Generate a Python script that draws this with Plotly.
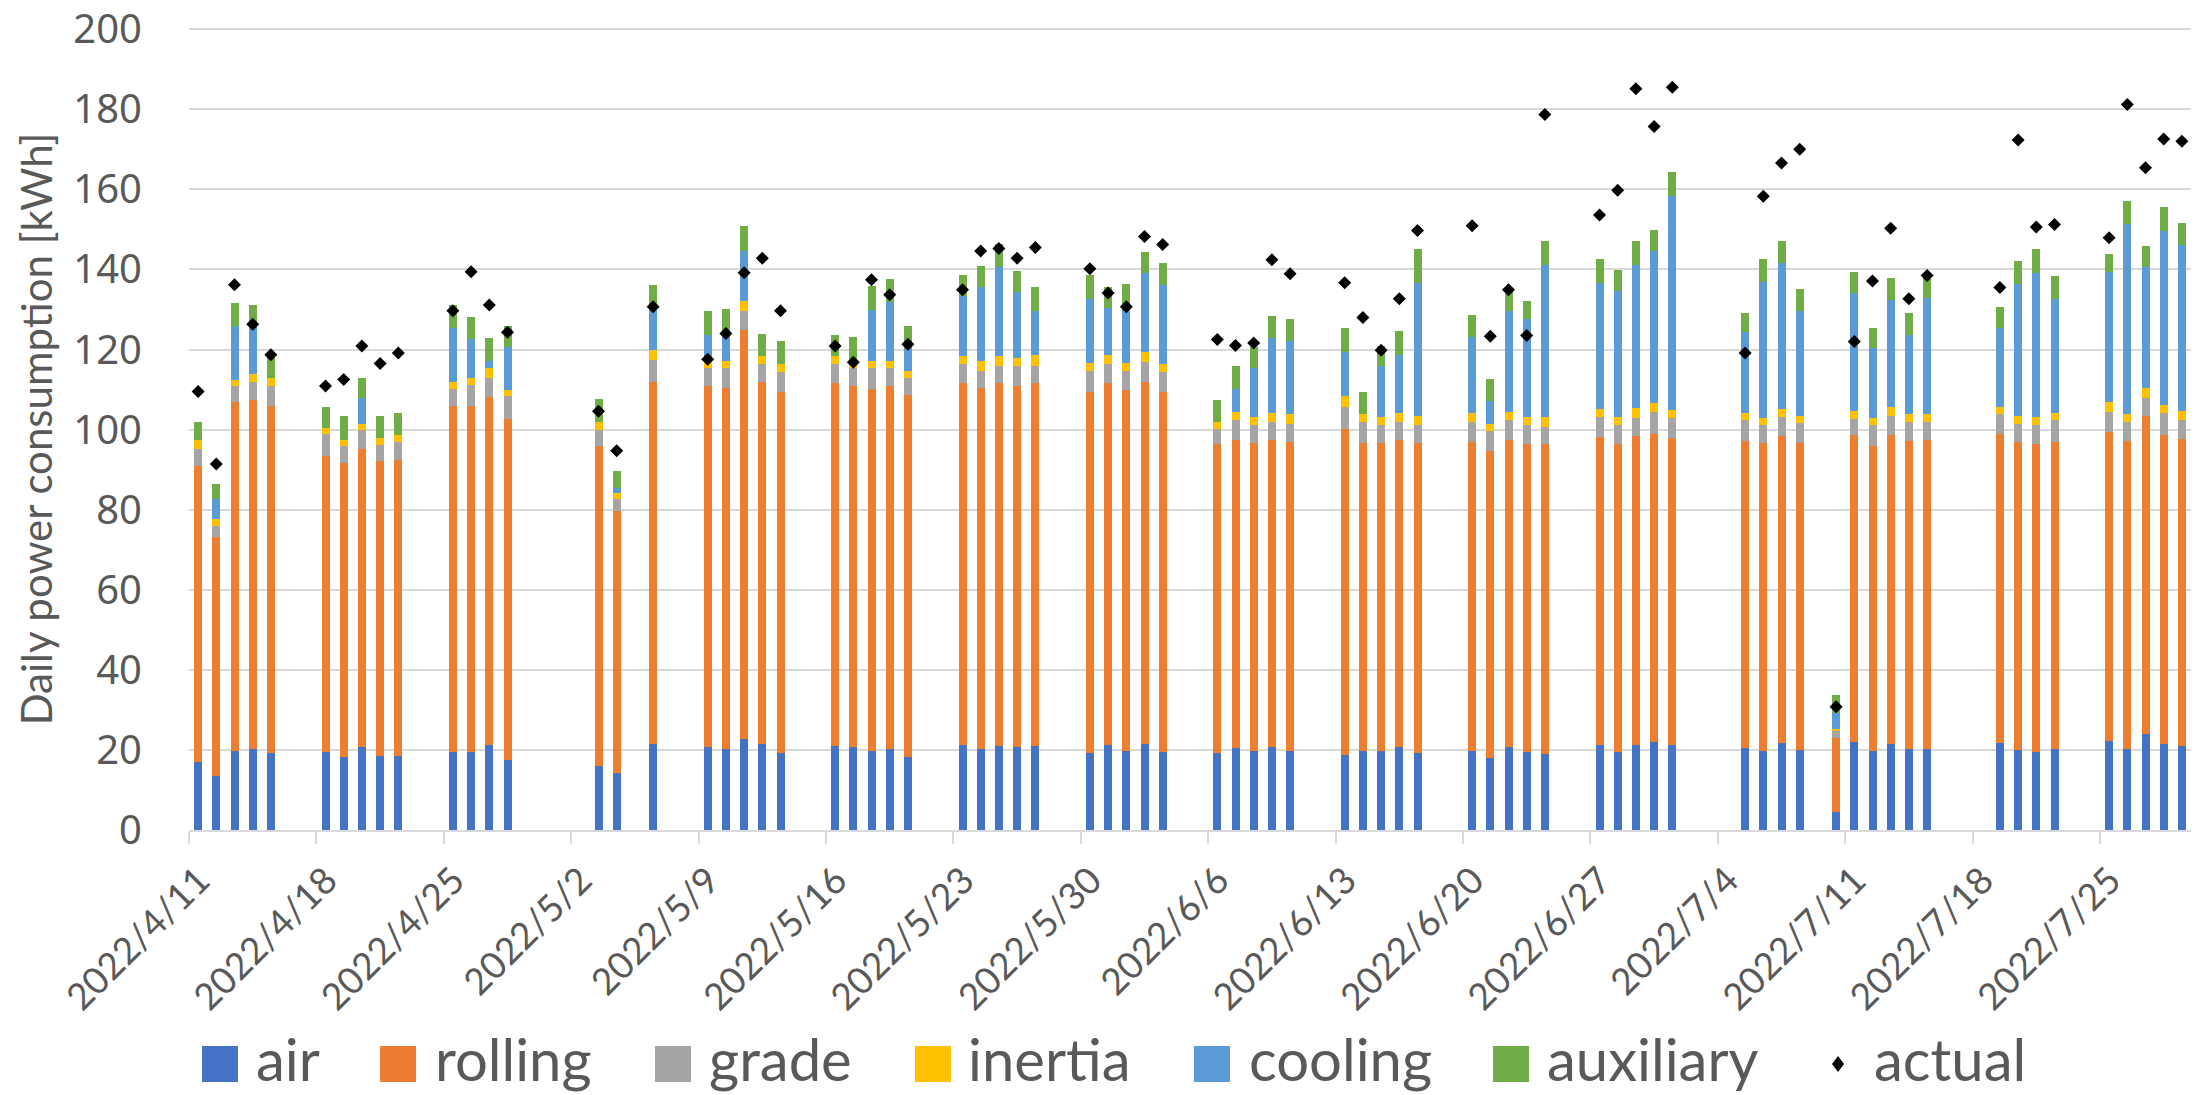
import pandas as pd
import plotly.graph_objects as go

dates = [
    "2022-04-11", "2022-04-12", "2022-04-13", "2022-04-14", "2022-04-15",
    "2022-04-18", "2022-04-19", "2022-04-20", "2022-04-21", "2022-04-22",
    "2022-04-25", "2022-04-26", "2022-04-27", "2022-04-28",
    "2022-05-03", "2022-05-04", "2022-05-06",
    "2022-05-09", "2022-05-10", "2022-05-11", "2022-05-12", "2022-05-13",
    "2022-05-16", "2022-05-17", "2022-05-18", "2022-05-19", "2022-05-20",
    "2022-05-23", "2022-05-24", "2022-05-25", "2022-05-26", "2022-05-27",
    "2022-05-30", "2022-05-31", "2022-06-01", "2022-06-02", "2022-06-03",
    "2022-06-06", "2022-06-07", "2022-06-08", "2022-06-09", "2022-06-10",
    "2022-06-13", "2022-06-14", "2022-06-15", "2022-06-16", "2022-06-17",
    "2022-06-20", "2022-06-21", "2022-06-22", "2022-06-23", "2022-06-24",
    "2022-06-27", "2022-06-28", "2022-06-29", "2022-06-30", "2022-07-01",
    "2022-07-05", "2022-07-06", "2022-07-07", "2022-07-08",
    "2022-07-10", "2022-07-11", "2022-07-12", "2022-07-13", "2022-07-14", "2022-07-15",
    "2022-07-19", "2022-07-20", "2022-07-21", "2022-07-22",
    "2022-07-25", "2022-07-26", "2022-07-27", "2022-07-28", "2022-07-29",
]

air = [
    17.0, 13.5, 19.8, 20.3, 19.2,
    19.5, 18.3, 20.7, 18.6, 18.6,
    19.5, 19.5, 21.3, 17.5,
    16.0, 14.3, 21.4,
    20.7, 20.2, 22.8, 21.4, 19.2,
    21.0, 20.7, 19.8, 20.2, 18.3,
    21.3, 20.2, 21.0, 20.7, 21.0,
    19.2, 21.3, 19.8, 21.4, 19.5,
    19.2, 20.5, 19.8, 20.7, 19.8,
    18.8, 19.8, 19.8, 20.7, 19.2,
    19.8, 18.0, 20.7, 19.5, 19.0,
    21.3, 19.5, 21.3, 22.0, 21.3,
    20.5, 19.8, 21.7, 20.1,
    4.6, 22.0, 19.8, 21.4, 20.2, 20.2,
    21.7, 20.1, 19.5, 20.2,
    22.2, 20.2, 24.0, 21.4, 21.0,
]
rolling = [
    73.9, 59.8, 87.0, 87.1, 86.8,
    73.8, 73.4, 74.4, 73.5, 73.8,
    86.5, 86.5, 86.9, 85.1,
    80.0, 65.4, 90.6,
    90.3, 90.3, 102.0, 90.5, 90.3,
    90.6, 90.3, 90.3, 90.6, 90.4,
    90.4, 90.3, 90.6, 90.1, 90.6,
    90.3, 90.3, 90.0, 90.6, 90.0,
    77.1, 77.0, 76.8, 76.7, 77.1,
    81.3, 76.8, 76.8, 76.7, 77.4,
    77.1, 76.7, 76.8, 76.8, 77.3,
    76.8, 76.8, 77.1, 77.0, 76.5,
    76.6, 76.8, 76.7, 76.5,
    18.3, 76.6, 76.2, 77.2, 76.9, 77.2,
    77.2, 76.8, 76.8, 76.7,
    77.1, 76.9, 79.5, 77.2, 76.7,
]
grade = [
    4.3, 2.7, 4.0, 4.6, 5.0,
    5.5, 4.1, 4.8, 4.1, 4.5,
    4.2, 5.2, 4.8, 5.9,
    4.0, 3.0, 5.5,
    4.4, 4.8, 4.9, 4.6, 5.0,
    4.8, 4.4, 5.2, 4.5, 4.3,
    4.8, 4.2, 4.4, 5.2, 4.4,
    5.2, 4.9, 4.9, 4.8, 4.8,
    3.8, 4.8, 4.6, 4.6, 4.5,
    5.6, 5.2, 4.5, 4.6, 4.6,
    4.9, 5.0, 4.8, 4.8, 4.4,
    5.0, 4.9, 4.5, 5.5, 5.1,
    5.2, 4.5, 4.7, 5.0,
    1.9, 4.0, 5.1, 4.7, 4.7, 4.4,
    4.9, 4.5, 4.8, 5.4,
    5.2, 4.9, 4.4, 5.5, 4.6,
]
inertia = [
    2.1, 1.6, 1.5, 1.8, 1.8,
    1.5, 1.7, 1.6, 1.8, 1.7,
    1.7, 1.6, 2.3, 1.3,
    1.8, 1.5, 2.4,
    1.7, 1.8, 2.5, 1.9, 1.9,
    1.9, 1.5, 1.9, 1.8, 1.6,
    1.8, 2.4, 2.3, 2.0, 2.6,
    1.9, 2.2, 1.9, 2.6, 2.2,
    1.9, 2.2, 1.9, 2.2, 2.4,
    2.6, 2.0, 2.0, 2.2, 2.1,
    2.3, 1.7, 2.1, 2.0, 2.4,
    2.1, 1.9, 2.4, 2.2, 2.1,
    1.9, 1.8, 2.1, 1.9,
    0.4, 2.0, 1.8, 2.3, 2.2, 2.2,
    1.9, 2.0, 2.0, 1.9,
    2.3, 1.8, 2.5, 2.0, 2.3,
]
cooling = [
    0.0, 5.1, 13.6, 12.4, 0.0,
    0.0, 0.0, 6.3, 0.0, 0.0,
    13.5, 9.8, 1.9, 10.8,
    0.0, 1.2, 11.1,
    6.6, 7.0, 12.5, 0.0, 0.0,
    0.0, 0.0, 12.7, 14.8, 5.9,
    15.1, 18.5, 22.4, 16.4, 11.1,
    16.1, 11.6, 14.4, 19.6, 19.7,
    0.0, 5.7, 12.2, 18.7, 18.4,
    11.2, 0.0, 12.7, 14.5, 33.3,
    19.1, 5.7, 25.2, 24.6, 38.0,
    31.5, 31.6, 35.8, 37.9, 53.4,
    20.1, 33.9, 36.4, 26.2,
    3.9, 29.4, 17.4, 26.7, 19.6, 28.9,
    19.8, 32.9, 35.9, 28.5,
    32.5, 47.5, 30.3, 43.4, 41.6,
]
auxiliary = [
    4.7, 3.7, 5.6, 5.0, 5.6,
    5.4, 5.8, 5.2, 5.5, 5.5,
    5.6, 5.4, 5.6, 5.3,
    5.8, 4.2, 5.2,
    5.9, 5.9, 6.2, 5.5, 5.8,
    5.3, 6.3, 6.0, 5.8, 5.4,
    5.2, 5.2, 5.7, 5.3, 5.9,
    5.8, 5.3, 5.4, 5.3, 5.4,
    5.5, 5.6, 5.4, 5.5, 5.4,
    6.0, 5.5, 5.1, 6.0, 8.4,
    5.4, 5.5, 5.5, 4.4, 6.0,
    6.0, 5.1, 6.0, 5.2, 5.9,
    4.8, 5.9, 5.5, 5.5,
    4.6, 5.4, 5.1, 5.6, 5.6, 5.3,
    5.2, 5.7, 6.0, 5.6,
    4.5, 5.7, 5.1, 6.0, 5.4,
]
actual = [
    109.5, 91.4, 136.2, 126.3, 118.7,
    110.9, 112.5, 120.9, 116.5, 119.1,
    129.7, 139.4, 131.1, 124.3,
    104.6, 94.7, 130.7,
    117.6, 124.0, 139.2, 142.8, 129.7,
    120.9, 116.8, 137.4, 133.7, 121.3,
    134.9, 144.6, 145.2, 142.8, 145.5,
    140.2, 134.1, 130.7, 148.2, 146.2,
    122.5, 121.0, 121.6, 142.4, 138.9,
    136.7, 128.0, 119.8, 132.7, 149.7,
    150.9, 123.3, 134.9, 123.5, 178.7,
    153.6, 159.8, 185.1, 175.7, 185.5,
    119.1, 158.3, 166.6, 170.0,
    30.8, 122.0, 137.1, 150.3, 132.7, 138.5,
    135.5, 172.3, 150.6, 151.2,
    147.9, 181.2, 165.4, 172.6, 172.0,
]

tick_dates = [
    "2022-04-11", "2022-04-18", "2022-04-25", "2022-05-02", "2022-05-09",
    "2022-05-16", "2022-05-23", "2022-05-30", "2022-06-06", "2022-06-13",
    "2022-06-20", "2022-06-27", "2022-07-04", "2022-07-11", "2022-07-18",
    "2022-07-25",
]
tick_labels = [
    "2022/4/11", "2022/4/18", "2022/4/25", "2022/5/2", "2022/5/9",
    "2022/5/16", "2022/5/23", "2022/5/30", "2022/6/6", "2022/6/13",
    "2022/6/20", "2022/6/27", "2022/7/4", "2022/7/11", "2022/7/18",
    "2022/7/25",
]
y_ticks = [0, 20, 40, 60, 80, 100, 120, 140, 160, 180, 200]

series_names = ["air", "rolling", "grade", "inertia", "cooling", "auxiliary"]
series_values = [air, rolling, grade, inertia, cooling, auxiliary]
series_colors = ["#4472C4", "#ED7D31", "#A5A5A5", "#FFC000", "#5B9BD5", "#70AD47"]

x = pd.to_datetime(dates) + pd.Timedelta(hours=12)
DAY_MS = 86400000

fig = go.Figure()
for name, vals, col in zip(series_names, series_values, series_colors):
    fig.add_trace(go.Bar(
        x=x, y=vals, name=name, width=0.44 * DAY_MS,
        marker=dict(color=col, line=dict(width=0)),
        showlegend=False,
    ))
fig.add_trace(go.Scatter(
    x=x, y=actual, name="actual", mode="markers",
    marker=dict(symbol="diamond", size=10, color="black"),
    showlegend=False,
))

W, H = 2195, 1095
L, R, T, B = 189, 4, 28, 265
PW, PH = W - L - R, H - T - B


def px_x(p):
    return (p - L) / PW


def px_y(p):
    return (H - B - p) / PH


GRAY = "#595959"
shapes = []
annotations = []
legend_items = [
    ("air", series_colors[0], 202, 254),
    ("rolling", series_colors[1], 380, 433),
    ("grade", series_colors[2], 655, 707),
    ("inertia", series_colors[3], 915, 966),
    ("cooling", series_colors[4], 1194, 1247),
    ("auxiliary", series_colors[5], 1493, 1545),
]
sw_top, sw_bot = 1046, 1082
for name, col, sx, tx in legend_items:
    shapes.append(dict(type="rect", xref="paper", yref="paper",
                       x0=px_x(sx), x1=px_x(sx + 36), y0=px_y(sw_bot), y1=px_y(sw_top),
                       fillcolor=col, line=dict(width=0)))
    annotations.append(dict(text=name, xref="paper", yref="paper",
                            x=px_x(tx), y=px_y(1058), xanchor="left", yanchor="middle",
                            showarrow=False, font=dict(family="Lato", size=58, color=GRAY)))
# actual legend diamond
cx, cy = 1838, 1064
dx, dy = 6, 8
path = "M {},{} L {},{} L {},{} L {},{} Z".format(
    px_x(cx - dx), px_y(cy), px_x(cx), px_y(cy - dy),
    px_x(cx + dx), px_y(cy), px_x(cx), px_y(cy + dy))
shapes.append(dict(type="path", xref="paper", yref="paper", path=path,
                   fillcolor="black", line=dict(width=0)))
annotations.append(dict(text="actual", xref="paper", yref="paper",
                        x=px_x(1872), y=px_y(1058), xanchor="left", yanchor="middle",
                        showarrow=False, font=dict(family="Lato", size=58, color=GRAY)))

fig.update_layout(
    width=W, height=H,
    margin=dict(l=L, r=R, t=T, b=B, autoexpand=False),
    paper_bgcolor="white", plot_bgcolor="white",
    barmode="stack", bargap=0,
    showlegend=False,
    shapes=shapes, annotations=annotations,
    xaxis=dict(
        type="date", range=["2022-04-11", "2022-07-30"],
        tickmode="array", tickvals=tick_dates, ticktext=tick_labels,
        tickangle=-45, tickfont=dict(family="Lato", size=37, color=GRAY),
        ticklabelshift=10,
        ticks="outside", ticklen=12, tickcolor="#D9D9D9", tickwidth=1.5,
        showline=True, linecolor="#D9D9D9", linewidth=1.5,
        showgrid=False, automargin=False,
    ),
    yaxis=dict(
        range=[0, 200.3], tickmode="array", tickvals=y_ticks,
        ticktext=[str(v) for v in y_ticks],
        tickfont=dict(family="Noto Sans", size=40, color=GRAY),
        ticklabelstandoff=46, ticklabeloverflow="allow",
        showgrid=True, gridcolor="#D9D9D9", gridwidth=1.5,
        zeroline=False, showline=False, automargin=False,
        title=dict(text="Daily power consumption [kWh]",
                   font=dict(family="Lato", size=42, color=GRAY), standoff=7),
    ),
)

fig.write_html("out.html")
